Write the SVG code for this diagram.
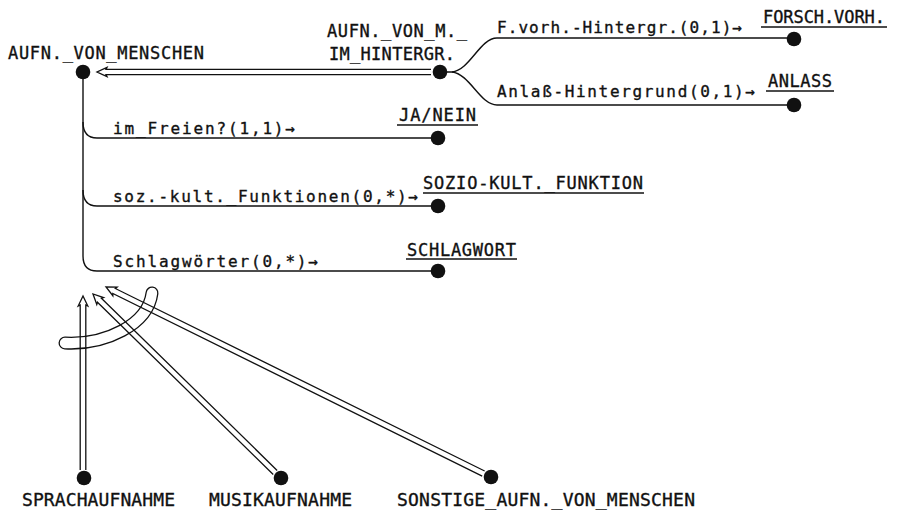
<svg xmlns="http://www.w3.org/2000/svg" width="900" height="513" viewBox="0 0 900 513">
<style>
text{font-family:"DejaVu Sans Mono","Liberation Mono",monospace;fill:#111;stroke:#111;stroke-width:0.35;}
.cap{font-size:17px;}
.big{font-size:18px;}
.low{font-size:16px;}
.ln{stroke:#111;stroke-width:1.4;fill:none;}
.arr{stroke:#111;stroke-width:1.3;fill:none;stroke-linejoin:miter;}
.dot{fill:#111;}
</style>
<defs>
<circle id="d" r="7.3" class="dot"/>
</defs>
<rect width="900" height="513" fill="#fff"/>
<g id="connectors">
  <path d="M 65 343 C 105 345, 148 325, 152 293" stroke="#111" stroke-width="13" fill="none" stroke-linecap="round"/>
  <path d="M 65 343 C 105 345, 148 325, 152 293" stroke="#fff" stroke-width="10.4" fill="none" stroke-linecap="round"/>
  <path class="ln" d="M 83 72 L 83 256 Q 83 271 97 271 L 432 271"/>
  <path class="ln" d="M 83 122 Q 83 138 97 138 L 432 138"/>
  <path class="ln" d="M 83 190 Q 83 206 97 206 L 432 206"/>
  <path class="ln" d="M 440 72 L 452 72 C 470 70, 480 38, 497 38 L 788 38"/>
  <path class="ln" d="M 452 72 C 470 74, 480 105, 497 105 L 788 105"/>
  <path class="arr" transform="translate(97 72)" d="M 334 -2.6 L 9 -2.6 L 10 -4.6 L 0 0 L 10 4.6 L 9 2.6 L 334 2.6"/>
  <path class="arr" transform="translate(83 296) rotate(90)" d="M 174 -2.8 L 9 -2.8 L 10 -4.8 L 0 0 L 10 4.8 L 9 2.8 L 174 2.8"/>
  <path class="arr" transform="translate(93 294) rotate(44.4)" d="M 255 -2.8 L 9 -2.8 L 10 -4.8 L 0 0 L 10 4.8 L 9 2.8 L 255 2.8"/>
  <path class="arr" transform="translate(106 287) rotate(26.3)" d="M 421 -2.8 L 9 -2.8 L 10 -4.8 L 0 0 L 10 4.8 L 9 2.8 L 421 2.8"/>
</g>
<g id="labels">
  <text class="low" x="497" y="33" textLength="245" lengthAdjust="spacing">F.vorh.-Hintergr.(0,1)→</text>
  <text class="low" x="497" y="97" textLength="258" lengthAdjust="spacing">Anlaß-Hintergrund(0,1)→</text>
  <text class="low" x="113" y="134" textLength="182" lengthAdjust="spacing">im_Freien?(1,1)→</text>
  <text class="low" x="113" y="202" textLength="305" lengthAdjust="spacing">soz.-kult._Funktionen(0,*)→</text>
  <text class="low" x="113" y="267" textLength="205" lengthAdjust="spacing">Schlagwörter(0,*)→</text>
</g>
<g id="node-aufn-von-menschen">
  <use href="#d" x="83" y="72"/>
  <text class="cap" x="8" y="59" textLength="196" lengthAdjust="spacing">AUFN._VON_MENSCHEN</text>
</g>
<g id="node-aufn-von-m-im-hintergr">
  <use href="#d" x="440" y="72"/>
  <text class="cap" x="327" y="37" textLength="140" lengthAdjust="spacing">AUFN._VON_M._</text>
  <text class="cap" x="329" y="60" textLength="126" lengthAdjust="spacing">IM_HINTERGR.</text>
</g>
<g id="node-forsch-vorh">
  <use href="#d" x="794" y="39"/>
  <text class="cap" x="763" y="23" textLength="122" lengthAdjust="spacing">FORSCH.VORH.</text>
  <line class="ln" x1="761" y1="27" x2="887" y2="27"/>
</g>
<g id="node-anlass">
  <use href="#d" x="794" y="105"/>
  <text class="cap" x="768" y="87" textLength="64" lengthAdjust="spacing">ANLASS</text>
  <line class="ln" x1="766" y1="91" x2="834" y2="91"/>
</g>
<g id="node-ja-nein">
  <use href="#d" x="438" y="138"/>
  <text class="cap" x="399" y="121" textLength="77" lengthAdjust="spacing">JA/NEIN</text>
  <line class="ln" x1="397" y1="125" x2="478" y2="125"/>
</g>
<g id="node-sozio-kult-funktion">
  <use href="#d" x="438" y="206"/>
  <text class="cap" x="423" y="189" textLength="220" lengthAdjust="spacing">SOZIO-KULT._FUNKTION</text>
  <line class="ln" x1="423" y1="193" x2="644" y2="193"/>
</g>
<g id="node-schlagwort">
  <use href="#d" x="438" y="271"/>
  <text class="cap" x="407" y="256" textLength="109" lengthAdjust="spacing">SCHLAGWORT</text>
  <line class="ln" x1="406" y1="259" x2="517" y2="259"/>
</g>
<g id="node-sprachaufnahme">
  <use href="#d" x="84" y="478"/>
  <text class="big" x="22" y="506" textLength="153" lengthAdjust="spacing">SPRACHAUFNAHME</text>
</g>
<g id="node-musikaufnahme">
  <use href="#d" x="281" y="478"/>
  <text class="big" x="209" y="506" textLength="143" lengthAdjust="spacing">MUSIKAUFNAHME</text>
</g>
<g id="node-sonstige">
  <use href="#d" x="491" y="477"/>
  <text class="big" x="397" y="506" textLength="298" lengthAdjust="spacing">SONSTIGE_AUFN._VON_MENSCHEN</text>
</g>
</svg>
